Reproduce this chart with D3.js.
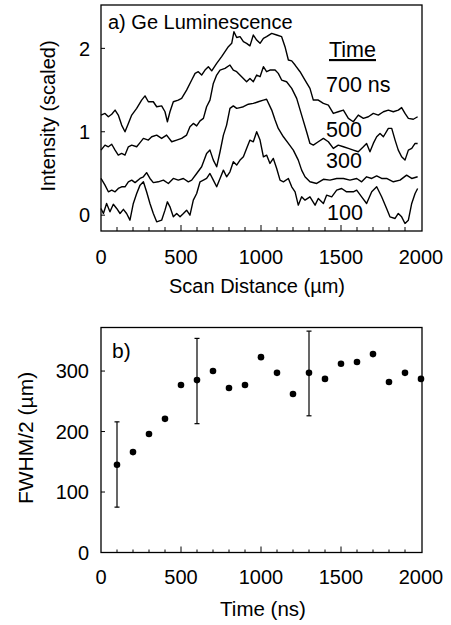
<!DOCTYPE html>
<html><head><meta charset="utf-8">
<script src="https://cdn.jsdelivr.net/npm/d3@7"></script>
<style>
body{margin:0;background:#fff;}
svg text{font-family:Arial,"Liberation Sans",sans-serif;fill:#000;}
</style></head>
<body>
<svg id="c" width="451" height="625"></svg>
<script>
// ---- Panel a) data: scan distance (µm) and scaled intensity for each delay time ----
const t700x = [0,25,46,67,88,108,129,150,171,192,223,254,275,296,327,348,379,400,415,431,452,483,504,535,567,588,608,629,650,671,692,723,754,775,796,817,831,848,869,890,910,931,952,973,994,1015,1035,1067,1098,1129,1150,1171,1192,1213,1244,1275,1306,1327,1358,1390,1421,1452,1483,1515,1546,1577,1608,1640,1671,1702,1733,1765,1796,1827,1858,1879,1900,1921,1952,1979];
const t700y = [1.20,1.22,1.18,1.21,1.26,1.20,1.08,1.00,1.10,1.20,1.28,1.38,1.43,1.36,1.36,1.30,1.31,1.24,1.12,1.24,1.36,1.38,1.40,1.50,1.62,1.70,1.72,1.68,1.74,1.78,1.73,1.82,1.90,1.96,2.02,2.06,2.20,2.13,2.14,2.08,2.06,2.03,2.16,2.10,2.06,2.12,2.14,2.18,2.16,2.14,2.02,1.86,1.85,1.80,1.72,1.62,1.52,1.38,1.38,1.34,1.32,1.22,1.24,1.26,1.16,1.12,1.20,1.16,1.18,1.22,1.20,1.24,1.26,1.24,1.26,1.29,1.22,1.16,1.15,1.18];

const t500x = [0,25,46,67,88,108,129,150,171,192,223,244,265,296,317,348,379,410,442,473,504,535,556,577,598,619,640,660,681,702,723,744,775,806,827,848,879,910,931,952,973,994,1015,1035,1056,1088,1108,1129,1160,1192,1223,1254,1285,1306,1327,1358,1390,1421,1452,1483,1515,1546,1577,1608,1640,1660,1681,1702,1723,1744,1765,1796,1817,1838,1858,1879,1900,1921,1942,1963,1979];
const t500y = [0.78,0.84,0.82,0.85,0.78,0.72,0.74,0.72,0.82,0.84,0.82,0.87,0.92,0.90,0.94,0.96,0.92,0.96,0.88,0.90,0.92,0.96,1.06,1.10,1.07,1.13,1.16,1.30,1.38,1.58,1.68,1.74,1.76,1.80,1.74,1.72,1.66,1.60,1.64,1.60,1.68,1.66,1.78,1.72,1.74,1.74,1.70,1.62,1.60,1.52,1.40,1.20,1.00,0.86,0.84,0.88,0.92,0.88,0.80,0.84,0.82,0.80,0.78,0.76,0.82,0.86,0.76,0.86,0.94,0.98,0.94,1.04,1.04,0.90,0.78,0.70,0.66,0.78,0.80,0.86,0.86];

const t300x = [0,25,46,67,88,108,129,150,171,192,213,244,265,285,306,327,358,390,421,452,483,515,546,567,598,629,660,681,702,723,744,765,785,806,827,848,869,890,921,952,983,1015,1035,1067,1088,1108,1140,1171,1202,1233,1254,1275,1306,1348,1390,1431,1473,1515,1556,1598,1629,1660,1692,1723,1754,1785,1827,1869,1910,1942,1979];
const t300y = [0.44,0.36,0.28,0.30,0.28,0.32,0.34,0.34,0.40,0.42,0.39,0.44,0.46,0.51,0.44,0.39,0.40,0.42,0.38,0.44,0.42,0.44,0.40,0.42,0.50,0.58,0.74,0.78,0.66,0.58,0.76,0.96,1.08,1.28,1.31,1.28,1.29,1.30,1.33,1.34,1.36,1.38,1.39,1.26,1.14,1.04,0.94,0.86,0.78,0.66,0.54,0.46,0.40,0.38,0.43,0.42,0.44,0.44,0.42,0.44,0.40,0.46,0.44,0.47,0.44,0.44,0.40,0.42,0.48,0.44,0.46];

const t100x = [0,15,35,56,77,98,119,140,160,181,202,223,244,265,285,306,327,348,379,400,415,431,452,473,494,515,535,556,577,598,619,640,660,681,702,723,744,765,785,806,827,848,869,890,910,931,952,973,994,1015,1035,1056,1077,1098,1119,1140,1171,1192,1213,1233,1254,1275,1306,1338,1358,1390,1410,1442,1473,1504,1535,1577,1598,1629,1660,1692,1723,1754,1785,1806,1838,1858,1879,1900,1921,1942,1963,1979];
const t100y = [0.08,0.02,0.14,0.04,0.13,0.08,0.02,0.07,0.02,-0.06,0.14,0.26,0.36,0.40,0.28,0.14,0.02,-0.08,-0.06,0.06,0.16,0.10,-0.02,0.02,-0.02,0.02,0.06,0.00,0.18,0.26,0.40,0.42,0.44,0.50,0.42,0.34,0.44,0.54,0.46,0.52,0.64,0.60,0.66,0.70,0.80,0.90,0.88,1.00,0.90,0.70,0.72,0.62,0.68,0.56,0.42,0.40,0.44,0.34,0.28,0.12,0.22,0.18,0.22,0.12,0.20,0.14,0.24,0.22,0.30,0.32,0.28,0.28,0.30,0.22,0.14,0.28,0.34,0.22,0.08,-0.02,-0.04,0.02,-0.02,-0.10,-0.06,0.14,0.26,0.32];

const seriesLabels = ["700 ns","500","300","100"];
const topYTicks = [0,1,2];
const xTicks = [0,500,1000,1500,2000];

// ---- Panel b) data: FWHM/2 vs delay time ----
const times = [100,200,300,400,500,600,700,800,900,1000,1100,1200,1300,1400,1500,1600,1700,1800,1900,2000];
const fwhm  = [145,166,196,221,277,285,300,272,277,323,297,262,297,287,312,315,328,282,297,287];
const errTimes = [100,600,1300];
const errLo = [75,213,226];
const errHi = [216,354,366];
const botYTicks = [0,100,200,300];

const svg = d3.select("#c");
const L = 101, R = 421;

// ---------- Panel a ----------
const xa = d3.scaleLinear().domain([0,2000]).range([L,R]);
const ya = d3.scaleLinear().domain([-0.19,2.52]).range([231,5]);
const ga = svg.append("g");
ga.append("rect").attr("x",L).attr("y",ya(2.52)).attr("width",R+1-L).attr("height",ya(-0.19)-ya(2.52))
  .attr("fill","none").attr("stroke","#000").attr("stroke-width",1.3);
const minor = d3.range(100,2000,100);
ga.selectAll(".xt").data(minor).join("line")
  .attr("x1",d=>xa(d)).attr("x2",d=>xa(d))
  .attr("y1",ya(-0.19)).attr("y2",d=>ya(-0.19)-(d%500===0?6:4))
  .attr("stroke","#000").attr("stroke-width",1);
ga.selectAll(".yt").data(topYTicks).join("line")
  .attr("x1",L).attr("x2",L+4).attr("y1",d=>ya(d)).attr("y2",d=>ya(d))
  .attr("stroke","#000").attr("stroke-width",1);
ga.selectAll(".ytl").data(topYTicks).join("text")
  .attr("x",90).attr("y",d=>ya(d)).attr("dy","0.36em").attr("text-anchor","end")
  .attr("font-size",20).text(d=>d);
ga.selectAll(".xtl").data(xTicks).join("text")
  .attr("x",d=>xa(d)).attr("y",264).attr("text-anchor","middle")
  .attr("font-size",20).text(d=>d);
ga.append("text").attr("x",257).attr("y",293).attr("text-anchor","middle")
  .attr("font-size",20).text("Scan Distance (\u00b5m)");
ga.append("text").attr("transform","translate(55,116) rotate(-90)").attr("text-anchor","middle")
  .attr("font-size",20).text("Intensity (scaled)");

const line = d3.line().x(d=>xa(d[0])).y(d=>ya(d[1]));
const series = [[t700x,t700y],[t500x,t500y],[t300x,t300y],[t100x,t100y]];
series.forEach(s=>{
  const pts = s[0].map((x,i)=>[x,s[1][i]]);
  ga.append("path").datum(pts).attr("d",line).attr("fill","none")
    .attr("stroke","#000").attr("stroke-width",1.4).attr("stroke-linejoin","round");
});
ga.append("text").attr("x",108).attr("y",29).attr("font-size",20).text("a) Ge Luminescence");
ga.append("text").attr("x",329).attr("y",57).attr("font-size",21.5).attr("text-decoration","underline").text("Time");
const labY = [92,137,168,220];
const labX = [326,326,326,327];
seriesLabels.forEach((t,i)=>{
  ga.append("text").attr("x",labX[i]).attr("y",labY[i]).attr("font-size",21.5).text(t);
});

// ---------- Panel b ----------
const yb = d3.scaleLinear().domain([0,372]).range([552.5,327.5]);
const gb = svg.append("g");
gb.append("rect").attr("x",L).attr("y",yb(372)).attr("width",R+1-L).attr("height",yb(0)-yb(372))
  .attr("fill","none").attr("stroke","#000").attr("stroke-width",1.3);
gb.selectAll(".xt").data(minor).join("line")
  .attr("x1",d=>xa(d)).attr("x2",d=>xa(d))
  .attr("y1",yb(0)).attr("y2",d=>yb(0)-(d%500===0?6:3))
  .attr("stroke","#000").attr("stroke-width",1);
gb.selectAll(".yt").data(botYTicks.slice(1)).join("line")
  .attr("x1",L).attr("x2",L+4).attr("y1",d=>yb(d)).attr("y2",d=>yb(d))
  .attr("stroke","#000").attr("stroke-width",1);
gb.selectAll(".ytl").data(botYTicks).join("text")
  .attr("x",89).attr("y",d=>yb(d)).attr("dy","0.36em").attr("text-anchor","end")
  .attr("font-size",20).text(d=>d);
gb.selectAll(".xtl").data(xTicks).join("text")
  .attr("x",d=>xa(d)).attr("y",584).attr("text-anchor","middle")
  .attr("font-size",20).text(d=>d);
gb.append("text").attr("x",263).attr("y",616).attr("text-anchor","middle")
  .attr("font-size",20.5).text("Time (ns)");
gb.append("text").attr("transform","translate(33,438) rotate(-90)").attr("text-anchor","middle")
  .attr("font-size",21).text("FWHM/2 (\u00b5m)");
gb.append("text").attr("x",112).attr("y",358).attr("font-size",21).text("b)");

errTimes.forEach((t,i)=>{
  gb.append("line").attr("x1",xa(t)).attr("x2",xa(t)).attr("y1",yb(errLo[i])).attr("y2",yb(errHi[i]))
    .attr("stroke","#000").attr("stroke-width",1.2);
  [errLo[i],errHi[i]].forEach(v=>{
    gb.append("line").attr("x1",xa(t)-2.5).attr("x2",xa(t)+2.5).attr("y1",yb(v)).attr("y2",yb(v))
      .attr("stroke","#000").attr("stroke-width",1.2);
  });
});
gb.selectAll(".pt").data(times).join("circle")
  .attr("cx",d=>xa(d)).attr("cy",(d,i)=>yb(fwhm[i])).attr("r",3.3).attr("fill","#000");
</script>
</body></html>
